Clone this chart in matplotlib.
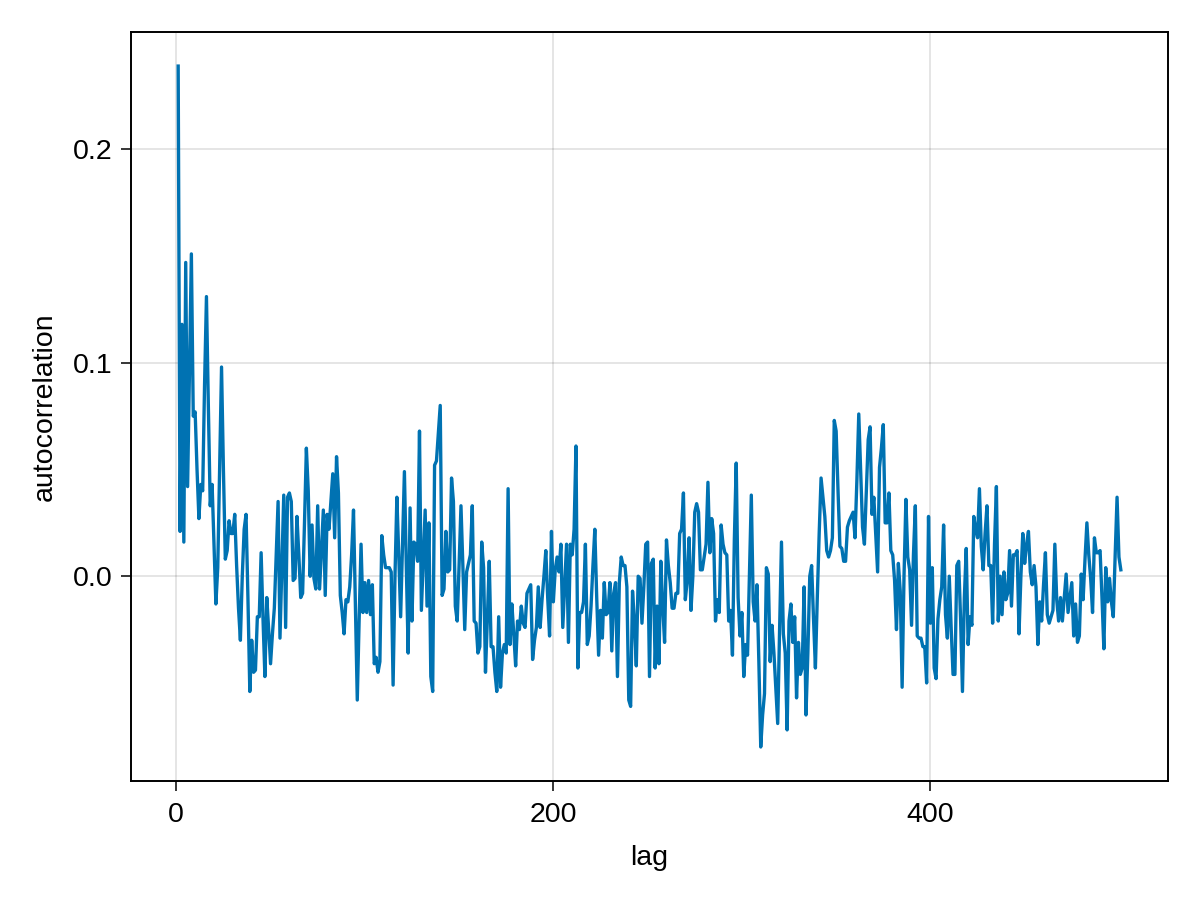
import numpy as np
import matplotlib
matplotlib.use("Agg")
import matplotlib.pyplot as plt

# autocorrelation by lag (lags 1..501)
acf = [
    0.239, 0.021, 0.118, 0.016, 0.147, 0.042, 0.095, 0.151, 0.075, 0.077,
    0.050, 0.027, 0.043, 0.040, 0.090, 0.131, 0.080, 0.033, 0.043, 0.015,
    -0.013, 0.004, 0.050, 0.098, 0.050, 0.008, 0.012, 0.026, 0.020, 0.020,
    0.029, 0.005, -0.015, -0.030, 0.000, 0.022, 0.029, -0.010, -0.054, -0.030,
    -0.045, -0.044, -0.019, -0.019, 0.011, -0.020, -0.047, -0.010, -0.025, -0.041,
    -0.027, -0.015, 0.010, 0.035, -0.029, 0.005, 0.038, -0.024, 0.037, 0.039,
    0.035, -0.002, -0.001, 0.028, 0.010, -0.010, -0.008, 0.025, 0.060, 0.040,
    0.000, 0.024, -0.001, -0.006, 0.033, -0.006, 0.012, 0.031, -0.009, 0.029,
    0.022, 0.035, 0.048, 0.018, 0.056, 0.039, -0.009, -0.017, -0.027, -0.011,
    -0.012, -0.005, 0.010, 0.031, -0.013, -0.058, -0.020, 0.015, -0.017, -0.003,
    -0.017, -0.002, -0.018, -0.004, -0.041, -0.038, -0.045, -0.040, 0.019, 0.010,
    0.004, 0.004, 0.004, 0.002, -0.051, 0.000, 0.037, 0.010, -0.019, 0.015,
    0.049, 0.005, -0.036, 0.032, -0.021, 0.016, 0.015, 0.007, 0.068, -0.016,
    0.008, 0.031, -0.014, 0.025, -0.047, -0.054, 0.052, 0.054, 0.067, 0.080,
    -0.009, -0.006, 0.021, 0.002, 0.003, 0.046, 0.035, -0.014, -0.021, 0.005,
    0.033, 0.005, -0.025, 0.002, 0.006, 0.010, 0.033, -0.021, -0.022, -0.036,
    -0.033, 0.016, 0.004, -0.045, -0.020, 0.007, -0.033, -0.033, -0.045, -0.054,
    -0.019, -0.052, -0.036, -0.032, -0.036, 0.041, -0.032, -0.013, -0.027, -0.042,
    -0.021, -0.025, -0.014, -0.022, -0.024, -0.008, -0.006, -0.004, -0.039, -0.030,
    -0.024, -0.005, -0.024, -0.011, 0.000, 0.012, -0.010, -0.028, 0.021, -0.012,
    0.003, 0.009, 0.002, 0.015, -0.024, -0.005, 0.015, -0.031, 0.015, 0.010,
    0.022, 0.061, -0.043, -0.017, -0.017, -0.012, 0.015, -0.032, -0.028, -0.014,
    0.005, 0.022, -0.010, -0.037, -0.016, -0.029, -0.003, -0.018, -0.017, -0.003,
    -0.035, -0.008, -0.003, -0.047, -0.003, 0.009, 0.005, 0.005, -0.005, -0.058,
    -0.061, -0.007, -0.021, -0.042, 0.000, -0.001, -0.022, -0.005, 0.015, 0.016,
    -0.047, 0.006, 0.008, -0.043, -0.014, -0.041, 0.007, -0.014, -0.031, 0.017,
    0.005, -0.003, -0.015, -0.015, -0.008, -0.008, 0.020, 0.022, 0.039, -0.011,
    -0.002, 0.018, -0.016, 0.000, 0.030, 0.034, 0.030, 0.003, 0.003, 0.009,
    0.015, 0.044, 0.011, 0.027, 0.020, -0.021, -0.011, -0.017, 0.024, 0.015,
    0.011, 0.010, -0.021, -0.016, -0.037, 0.017, 0.053, -0.010, -0.028, -0.017,
    -0.047, -0.032, -0.037, 0.000, 0.038, -0.012, -0.021, -0.004, -0.040, -0.080,
    -0.065, -0.055, 0.004, 0.001, -0.040, -0.023, -0.036, -0.053, -0.069, -0.025,
    0.016, -0.027, -0.036, -0.072, -0.021, -0.013, -0.031, -0.019, -0.057, -0.031,
    -0.046, -0.043, -0.005, -0.065, -0.036, 0.000, 0.005, -0.020, -0.043, -0.010,
    0.020, 0.046, 0.037, 0.028, 0.012, 0.009, 0.012, 0.018, 0.073, 0.068,
    0.040, 0.014, 0.013, 0.007, 0.007, 0.023, 0.026, 0.028, 0.030, 0.018,
    0.045, 0.076, 0.050, 0.023, 0.015, 0.040, 0.064, 0.070, 0.029, 0.037,
    0.020, 0.002, 0.051, 0.060, 0.071, 0.025, 0.025, 0.039, 0.012, 0.010,
    -0.002, -0.025, 0.006, -0.007, -0.052, 0.000, 0.036, 0.009, 0.003, -0.023,
    0.010, 0.033, -0.028, -0.029, -0.029, -0.033, -0.033, -0.050, 0.028, -0.022,
    0.004, -0.043, -0.048, -0.020, -0.011, -0.005, 0.024, -0.018, -0.029, 0.000,
    -0.024, -0.046, -0.046, 0.005, 0.007, -0.020, -0.054, -0.010, 0.013, -0.032,
    -0.019, -0.023, 0.028, 0.022, 0.018, 0.041, 0.014, 0.003, 0.020, 0.033,
    0.005, 0.005, -0.022, 0.015, 0.042, -0.021, 0.000, -0.018, 0.002, -0.011,
    -0.008, 0.012, -0.014, 0.010, 0.010, 0.012, -0.027, 0.000, 0.020, 0.006,
    0.015, 0.021, 0.002, -0.004, 0.005, -0.005, -0.032, -0.012, -0.021, -0.004,
    0.011, -0.018, -0.022, -0.019, -0.016, 0.015, -0.011, -0.021, -0.010, -0.021,
    -0.010, 0.001, -0.017, -0.010, -0.003, -0.028, -0.013, -0.031, -0.028, 0.001,
    -0.011, 0.008, 0.025, 0.010, -0.001, -0.017, 0.018, 0.011, 0.011, 0.012,
    -0.010, -0.034, 0.004, -0.012, -0.001, -0.012, -0.019, 0.010, 0.037, 0.009,
    0.003,
]
lags = np.arange(1, len(acf) + 1)

x_ticks = [0, 200, 400]
y_ticks = [0.0, 0.1, 0.2]

plt.rcParams['font.family'] = ['Liberation Sans', 'DejaVu Sans']
plt.rcParams['font.size'] = 20

fig = plt.figure(figsize=(12, 9), dpi=100)
ax = fig.add_axes([0.1092, 0.1322, 0.8641, 0.8322])

ax.plot(lags, acf, color='#0072b2', lw=2.4)
ax.margins(x=0.05, y=0.05)

ax.set_xticks(x_ticks)
ax.set_yticks(y_ticks)
ax.set_yticklabels(['%.1f' % v for v in y_ticks])
ax.grid(True, color='black', alpha=0.12, lw=1.2)
ax.set_axisbelow(True)

for s in ax.spines.values():
    s.set_linewidth(1.4)
    s.set_color('black')
ax.tick_params(direction='out', length=7, width=1.1, labelsize=20.5)
ax.tick_params(axis='x', pad=8)
ax.tick_params(axis='y', pad=6)

ax.set_xlabel('lag', fontsize=20.5, labelpad=12)
ax.set_ylabel('autocorrelation', fontsize=20.5, labelpad=11)

fig.savefig('out.png', dpi=100)
